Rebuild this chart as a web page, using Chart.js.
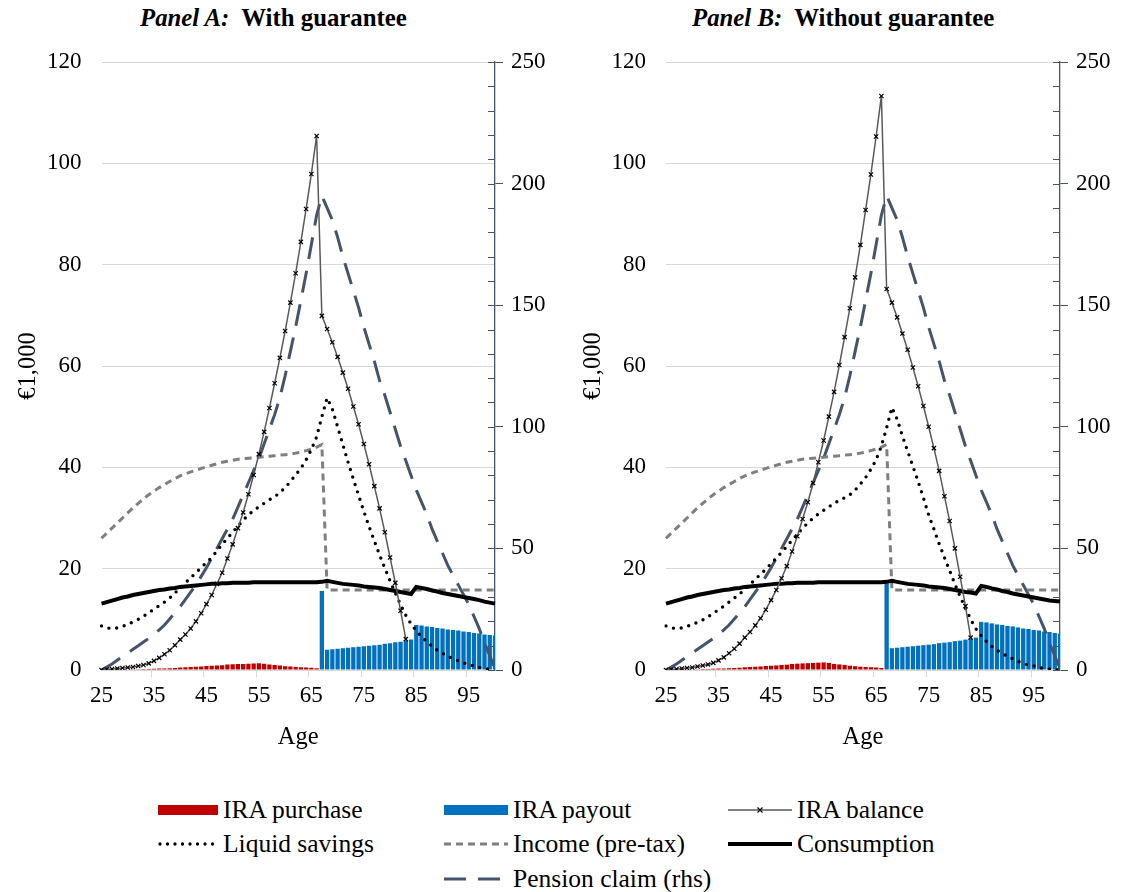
<!DOCTYPE html>
<html lang="en">
<head>
  <meta charset="UTF-8" />
  <title>IRA lifecycle profiles</title>
  <script src="https://cdn.jsdelivr.net/npm/chart.js@4.4.0/dist/chart.umd.min.js"></script>
  <style>
    body { margin: 0; background: #fff; font-family: 'Liberation Serif', 'Times New Roman', serif; color: #000; }
    #page { position: relative; width: 1132px; height: 892px; overflow: hidden; }
    .panel { position: absolute; top: 0; width: 566px; height: 760px; }
    .panel-title { position: absolute; top: 4px; font-size: 24.8px; font-weight: bold; white-space: nowrap; }
    .legend-item { position: absolute; display: flex; align-items: center; height: 30px; font-size: 25.5px; white-space: nowrap; }
    .legend-item svg { margin-right: 5px; }
  </style>
</head>
<body>
<div id="page">
  <div class="panel-title" style="left:140px"><i>Panel A:</i>&nbsp; With guarantee</div>
  <div class="panel-title" style="left:692px"><i>Panel B:</i>&nbsp; Without guarantee</div>
  <div class="panel" style="left:0"><canvas id="chartA" width="566" height="760"></canvas></div>
  <div class="panel" style="left:565px"><canvas id="chartB" width="566" height="760"></canvas></div>

  <!-- legend -->
  <div class="legend-item" style="left:158px; top:795px">
    <svg width="60" height="12"><rect x="0" y="1" width="60" height="10" fill="#C00000"/></svg>IRA purchase</div>
  <div class="legend-item" style="left:444px; top:795px">
    <svg width="64" height="12"><rect x="0" y="1" width="64" height="10" fill="#0070C0"/></svg>IRA payout</div>
  <div class="legend-item" style="left:728px; top:795px">
    <svg width="64" height="12"><line x1="0" y1="6" x2="64" y2="6" stroke="#595959" stroke-width="1.5"/><path d="M29.5 3.5 L34.5 8.5 M34.5 3.5 L29.5 8.5" stroke="#000" stroke-width="1.2"/></svg>IRA balance</div>
  <div class="legend-item" style="left:158px; top:829px">
    <svg width="60" height="12"><line x1="2" y1="6" x2="60" y2="6" stroke="#000" stroke-width="3.3" stroke-linecap="round" stroke-dasharray="0 7.5"/></svg>Liquid savings</div>
  <div class="legend-item" style="left:444px; top:829px">
    <svg width="64" height="12"><line x1="0" y1="6" x2="64" y2="6" stroke="#7F7F7F" stroke-width="3" stroke-dasharray="7 5"/></svg>Income (pre-tax)</div>
  <div class="legend-item" style="left:728px; top:829px">
    <svg width="64" height="12"><line x1="0" y1="6" x2="64" y2="6" stroke="#000" stroke-width="4"/></svg>Consumption</div>
  <div class="legend-item" style="left:444px; top:864px">
    <svg width="64" height="12"><line x1="0" y1="6" x2="64" y2="6" stroke="#44546A" stroke-width="3" stroke-dasharray="22 12"/></svg>Pension claim (rhs)</div>
</div>

<script>
  // age categories
  const ages = [
    25, 26, 27, 28, 29, 30, 31, 32, 33, 34,
    35, 36, 37, 38, 39, 40, 41, 42, 43, 44,
    45, 46, 47, 48, 49, 50, 51, 52, 53, 54,
    55, 56, 57, 58, 59, 60, 61, 62, 63, 64,
    65, 66, 67, 68, 69, 70, 71, 72, 73, 74,
    75, 76, 77, 78, 79, 80, 81, 82, 83, 84,
    85, 86, 87, 88, 89, 90, 91, 92, 93, 94,
    95, 96, 97, 98, 99, 100
  ];

  // ---- Panel A: with guarantee (€1,000; pension claim on rhs) ----
  const purchaseA = [
    0, 0, 0, 0.05, 0.1, 0.1, 0.15, 0.15, 0.2, 0.2,
    0.25, 0.3, 0.3, 0.35, 0.4, 0.5, 0.55, 0.6, 0.65, 0.7,
    0.8, 0.85, 0.9, 0.95, 1.1, 1.15, 1.2, 1.2, 1.25, 1.3,
    1.35, 1.25, 1.1, 1.0, 0.9, 0.75, 0.7, 0.6, 0.55, 0.5,
    0.45, 0.35, null, null, null, null, null, null, null, null,
    null, null, null, null, null, null, null, null, null, null,
    null, null, null, null, null, null, null, null, null, null,
    null, null, null, null, null, null
  ];
  const payoutA = [
    null, null, null, null, null, null, null, null, null, null,
    null, null, null, null, null, null, null, null, null, null,
    null, null, null, null, null, null, null, null, null, null,
    null, null, null, null, null, null, null, null, null, null,
    null, null, 15.6, 4.0, 4.1, 4.2, 4.3, 4.4, 4.5, 4.6,
    4.7, 4.8, 4.9, 5.0, 5.2, 5.3, 5.5, 5.6, 5.8, 6.0,
    8.9, 8.8, 8.6, 8.5, 8.3, 8.2, 8.0, 7.9, 7.8, 7.6,
    7.5, 7.3, 7.2, 7.0, 6.9, 6.8
  ];
  const balanceA = [
    0.0, 0.1, 0.2, 0.3, 0.4, 0.5, 0.6, 0.8, 1.0, 1.3,
    1.8, 2.4, 3.1, 3.9, 4.9, 6.0, 7.0, 8.2, 9.6, 11.2,
    13.0, 14.8, 17.0, 19.2, 22.0, 24.8, 28.0, 31.1, 34.7, 38.5,
    42.6, 47.0, 51.7, 56.6, 61.6, 66.9, 72.5, 78.3, 84.5, 91.0,
    97.9, 105.4, 69.9, 67.3, 64.7, 61.8, 58.7, 55.5, 52.0, 48.5,
    44.6, 40.6, 36.3, 31.9, 27.2, 22.2, 17.2, 11.7, 6.1, null,
    null, null, null, null, null, null, null, null, null, null,
    null, null, null, null, null, null
  ];
  const liquidA = [
    8.7, 8.3, 8.2, 8.3, 8.6, 9.0, 9.5, 10.0, 10.6, 11.3,
    12.0, 12.7, 13.4, 14.2, 15.2, 16.2, 17.2, 18.2, 19.2, 20.2,
    21.2, 22.2, 23.5, 24.8, 26.0, 27.2, 28.4, 29.6, 30.6, 31.5,
    32.2, 32.9, 33.6, 34.2, 35.0, 36.0, 37.2, 38.5, 39.8, 41.5,
    43.5, 46.0, 50.0, 53.7, 51.5, 48.0, 44.5, 41.0, 37.7, 34.5,
    31.3, 28.3, 25.5, 22.7, 20.1, 17.6, 15.2, 12.9, 10.8, 9.1,
    7.7, 6.6, 5.6, 4.7, 3.9, 3.3, 2.7, 2.2, 1.8, 1.4,
    1.1, 0.8, 0.5, 0.3, 0.1, 0.0
  ];
  const incomeA = [
    26.0, 27.0, 28.0, 29.0, 30.0, 31.0, 32.0, 32.9, 33.8, 34.6,
    35.3, 36.0, 36.6, 37.2, 37.8, 38.3, 38.7, 39.1, 39.4, 39.8,
    40.1, 40.4, 40.7, 41.0, 41.2, 41.4, 41.6, 41.7, 41.8, 41.9,
    42.0, 42.1, 42.2, 42.3, 42.4, 42.5, 42.6, 42.8, 43.0, 43.3,
    43.6, 44.0, 44.5, 15.8, 15.8, 15.8, 15.8, 15.8, 15.8, 15.8,
    15.8, 15.8, 15.8, 15.8, 15.8, 15.8, 15.8, 15.8, 15.8, 15.8,
    15.8, 15.8, 15.8, 15.8, 15.8, 15.8, 15.8, 15.8, 15.8, 15.8,
    15.8, 15.8, 15.8, 15.8, 15.8, 15.8
  ];
  const consumptionA = [
    13.1, 13.4, 13.7, 14.0, 14.3, 14.5, 14.8, 15.0, 15.2, 15.4,
    15.6, 15.8, 15.9, 16.1, 16.2, 16.4, 16.5, 16.6, 16.7, 16.8,
    16.9, 17.0, 17.0, 17.1, 17.1, 17.2, 17.2, 17.2, 17.2, 17.3,
    17.3, 17.3, 17.3, 17.3, 17.3, 17.3, 17.3, 17.3, 17.3, 17.3,
    17.3, 17.3, 17.4, 17.6, 17.4, 17.2, 17.0, 16.9, 16.8, 16.7,
    16.5, 16.4, 16.3, 16.2, 16.0, 15.8, 15.6, 15.4, 15.2, 15.0,
    16.4, 16.2, 16.0, 15.7, 15.5, 15.2, 15.0, 14.8, 14.6, 14.4,
    14.2, 14.0, 13.8, 13.5, 13.3, 13.1
  ];
  const pensionA = [
    0, 1.2, 2.5, 4, 5.5, 7, 8.5, 10, 11.5, 13,
    14.5, 16.5, 18.5, 21, 23.5, 26, 29, 32, 35, 38.5,
    42, 46, 50, 54, 58, 62, 67, 72, 77, 82,
    87, 93, 99, 105, 112, 121, 131, 141, 152, 163,
    175, 187, 195, 190, 185, 178, 170, 163, 156, 149,
    141, 134, 127, 119, 113, 106, 99, 92, 86, 80,
    74, 69, 64, 58, 53, 48, 43, 39, 35, 31,
    27, 22, 17, 11, 6, 0
  ];

  // ---- Panel B: without guarantee ----
  const purchaseB = [
    0, 0, 0, 0.05, 0.1, 0.1, 0.15, 0.2, 0.2, 0.25,
    0.3, 0.3, 0.35, 0.4, 0.45, 0.55, 0.6, 0.65, 0.7, 0.8,
    0.85, 0.9, 1.0, 1.05, 1.2, 1.25, 1.3, 1.35, 1.4, 1.45,
    1.5, 1.4, 1.2, 1.1, 1.0, 0.85, 0.75, 0.65, 0.6, 0.55,
    0.5, 0.4, null, null, null, null, null, null, null, null,
    null, null, null, null, null, null, null, null, null, null,
    null, null, null, null, null, null, null, null, null, null,
    null, null, null, null, null, null
  ];
  const payoutB = [
    null, null, null, null, null, null, null, null, null, null,
    null, null, null, null, null, null, null, null, null, null,
    null, null, null, null, null, null, null, null, null, null,
    null, null, null, null, null, null, null, null, null, null,
    null, null, 17.1, 4.3, 4.4, 4.5, 4.6, 4.7, 4.8, 4.9,
    5.0, 5.1, 5.3, 5.4, 5.5, 5.7, 5.8, 6.0, 6.2, 6.4,
    9.5, 9.4, 9.2, 9.0, 8.9, 8.7, 8.6, 8.4, 8.2, 8.1,
    7.9, 7.8, 7.6, 7.5, 7.3, 7.2
  ];
  const balanceB = [
    0.0, 0.1, 0.2, 0.3, 0.4, 0.5, 0.7, 0.9, 1.1, 1.4,
    1.9, 2.5, 3.3, 4.2, 5.2, 6.4, 7.5, 8.8, 10.2, 11.9,
    13.8, 15.8, 18.1, 20.5, 23.4, 26.4, 29.8, 33.1, 36.9, 41.0,
    45.3, 50.0, 54.9, 60.2, 65.7, 71.4, 77.5, 83.9, 90.8, 97.8,
    105.3, 113.3, 75.2, 72.5, 69.6, 66.4, 63.2, 59.7, 56.0, 52.1,
    48.0, 43.8, 39.3, 34.3, 29.4, 24.0, 18.4, 12.6, 6.4, null,
    null, null, null, null, null, null, null, null, null, null,
    null, null, null, null, null, null
  ];
  const liquidB = [
    8.7, 8.3, 8.2, 8.3, 8.6, 9.0, 9.4, 9.9, 10.5, 11.2,
    11.9, 12.6, 13.4, 14.2, 15.0, 15.9, 16.9, 17.9, 18.9, 19.9,
    21.0, 22.1, 23.2, 24.4, 25.6, 26.8, 28.0, 29.0, 30.0, 30.8,
    31.5, 32.2, 32.9, 33.5, 34.0, 34.6, 35.5, 36.7, 38.0, 39.6,
    41.5, 44.2, 47.8, 51.8, 49.5, 46.2, 43.2, 40.2, 37.2, 34.0,
    30.6, 27.8, 24.9, 22.2, 19.6, 16.9, 14.5, 12.2, 10.0, 8.1,
    6.8, 5.6, 4.7, 3.9, 3.3, 2.7, 2.2, 1.7, 1.3, 1.0,
    0.8, 0.5, 0.3, 0.2, 0.1, 0.0
  ];
  const incomeB = [
    26.0, 27.0, 28.0, 29.0, 30.0, 31.0, 32.0, 32.9, 33.8, 34.6,
    35.3, 36.0, 36.6, 37.2, 37.8, 38.3, 38.7, 39.1, 39.4, 39.8,
    40.1, 40.4, 40.7, 41.0, 41.2, 41.4, 41.6, 41.7, 41.8, 41.9,
    42.0, 42.1, 42.2, 42.3, 42.4, 42.5, 42.6, 42.8, 43.0, 43.3,
    43.6, 44.0, 44.5, 15.8, 15.8, 15.8, 15.8, 15.8, 15.8, 15.8,
    15.8, 15.8, 15.8, 15.8, 15.8, 15.8, 15.8, 15.8, 15.8, 15.8,
    15.8, 15.8, 15.8, 15.8, 15.8, 15.8, 15.8, 15.8, 15.8, 15.8,
    15.8, 15.8, 15.8, 15.8, 15.8, 15.8
  ];
  const consumptionB = [
    13.1, 13.4, 13.7, 14.0, 14.3, 14.5, 14.8, 15.0, 15.2, 15.4,
    15.6, 15.8, 15.9, 16.1, 16.2, 16.4, 16.5, 16.6, 16.7, 16.8,
    16.9, 17.0, 17.0, 17.1, 17.1, 17.2, 17.2, 17.2, 17.2, 17.3,
    17.3, 17.3, 17.3, 17.3, 17.3, 17.3, 17.3, 17.3, 17.3, 17.3,
    17.3, 17.3, 17.4, 17.6, 17.4, 17.2, 17.0, 16.9, 16.8, 16.7,
    16.5, 16.4, 16.3, 16.2, 16.0, 15.8, 15.6, 15.4, 15.3, 15.1,
    16.6, 16.4, 16.1, 15.9, 15.6, 15.4, 15.1, 14.9, 14.7, 14.5,
    14.3, 14.1, 13.9, 13.7, 13.6, 13.5
  ];
  const pensionB = [
    0, 1.2, 2.5, 4, 5.5, 7, 8.5, 10, 11.5, 13,
    14.5, 16.5, 18.5, 21, 23.5, 26, 29, 32, 35, 38.5,
    42, 46, 50, 54, 58, 62, 67, 72, 77, 82,
    87, 93, 99, 105, 112, 121, 131, 141, 152, 163,
    175, 187, 195, 190, 185, 178, 170, 163, 156, 149,
    141, 134, 127, 119, 113, 106, 99, 92, 86, 80,
    74, 69, 64, 58, 53, 48, 43, 39, 35, 31,
    27, 22, 17, 11, 6, 0
  ];

  const leftTicks = [0, 20, 40, 60, 80, 100, 120];
  const rightTicks = [0, 50, 100, 150, 200, 250];

  Chart.defaults.font.family = "'Liberation Serif', 'Times New Roman', serif";
  Chart.defaults.font.size = 23;
  Chart.defaults.color = '#000';

  const slate = '#44546A';

  // small inward tick marks on the right axis, every 10 units
  const rhsMinorTicks = {
    id: 'rhsMinorTicks',
    afterDraw(chart) {
      const s = chart.scales.y2;
      const ctx = chart.ctx;
      ctx.save();
      ctx.strokeStyle = slate;
      ctx.lineWidth = 1;
      for (let v = s.min; v <= s.max; v += 10) {
        const y = Math.round(s.getPixelForValue(v)) + 0.5;
        ctx.beginPath();
        ctx.moveTo(s.left - 7, y);
        ctx.lineTo(s.left, y);
        ctx.stroke();
      }
      ctx.restore();
    }
  };

  function makePanel(id, d, leftWidth) {
    return new Chart(document.getElementById(id), {
      data: {
        labels: ages,
        datasets: [
          {
            type: 'line', label: 'IRA balance', data: d.balance, yAxisID: 'y', order: 1,
            borderColor: '#595959', borderWidth: 1.5,
            pointStyle: 'crossRot', pointRadius: 3, pointBorderColor: '#000', pointBorderWidth: 1.2,
            pointBackgroundColor: '#fff', spanGaps: false
          },
          {
            type: 'line', label: 'Liquid savings', data: d.liquid, yAxisID: 'y', order: 2,
            borderColor: '#000', borderWidth: 3.4, borderDash: [0, 7.8], borderCapStyle: 'round',
            pointRadius: 0
          },
          {
            type: 'line', label: 'Consumption', data: d.consumption, yAxisID: 'y', order: 3,
            borderColor: '#000', borderWidth: 4, pointRadius: 0
          },
          {
            type: 'line', label: 'Income (pre-tax)', data: d.income, yAxisID: 'y', order: 4,
            borderColor: '#7F7F7F', borderWidth: 3, borderDash: [7, 5], pointRadius: 0
          },
          {
            type: 'line', label: 'Pension claim (rhs)', data: d.pension, yAxisID: 'y2', order: 5,
            borderColor: slate, borderWidth: 3, borderDash: [22, 12], pointRadius: 0
          },
          {
            type: 'bar', label: 'IRA payout', data: d.payout, yAxisID: 'y', order: 10,
            backgroundColor: '#0070C0', grouped: false, categoryPercentage: 1, barPercentage: 0.82
          },
          {
            type: 'bar', label: 'IRA purchase', data: d.purchase, yAxisID: 'y', order: 11,
            backgroundColor: '#C00000', grouped: false, categoryPercentage: 1, barPercentage: 0.82
          }
        ]
      },
      options: {
        responsive: false,
        devicePixelRatio: 1,
        animation: false,
        layout: { padding: { top: 62, left: 0, right: 0, bottom: 0 } },
        plugins: { legend: { display: false }, tooltip: { enabled: false } },
        scales: {
          x: {
            type: 'category',
            offset: false,
            border: { color: '#D9D9D9', width: 1 },
            grid: {
              drawOnChartArea: false, drawTicks: true, tickLength: 7,
              color: c => (c.index % 10 === 0 ? '#D9D9D9' : 'rgba(0,0,0,0)')
            },
            ticks: {
              autoSkip: false, maxRotation: 0, padding: 5,
              callback: (v, i) => (i % 10 === 0 ? String(ages[i]) : '')
            },
            title: { display: true, text: 'Age', font: { size: 24.5 }, padding: { top: 0, bottom: 8 } },
            afterFit: s => { s.height = 90; }
          },
          y: {
            position: 'left',
            min: 0, max: 120,
            afterBuildTicks: s => { s.ticks = leftTicks.map(v => ({ value: v })); },
            border: { display: false },
            grid: { color: '#D9D9D9', drawTicks: false },
            ticks: { padding: 20 },
            title: { display: true, text: '€1,000', font: { size: 24.5 }, padding: { top: 14, bottom: 0 } },
            afterFit: s => { s.width = leftWidth; }
          },
          y2: {
            position: 'right',
            min: 0, max: 250,
            afterBuildTicks: s => { s.ticks = rightTicks.map(v => ({ value: v })); },
            border: { color: slate, width: 1.3 },
            grid: { drawOnChartArea: false, drawTicks: true, tickLength: 8, color: slate },
            ticks: { padding: 8 },
            afterFit: s => { s.width = 71; }
          }
        }
      },
      plugins: [rhsMinorTicks]
    });
  }

  makePanel('chartA', {
    purchase: purchaseA, payout: payoutA, balance: balanceA, liquid: liquidA,
    income: incomeA, consumption: consumptionA, pension: pensionA
  }, 101.5);

  makePanel('chartB', {
    purchase: purchaseB, payout: payoutB, balance: balanceB, liquid: liquidB,
    income: incomeB, consumption: consumptionB, pension: pensionB
  }, 101);
</script>
</body>
</html>
